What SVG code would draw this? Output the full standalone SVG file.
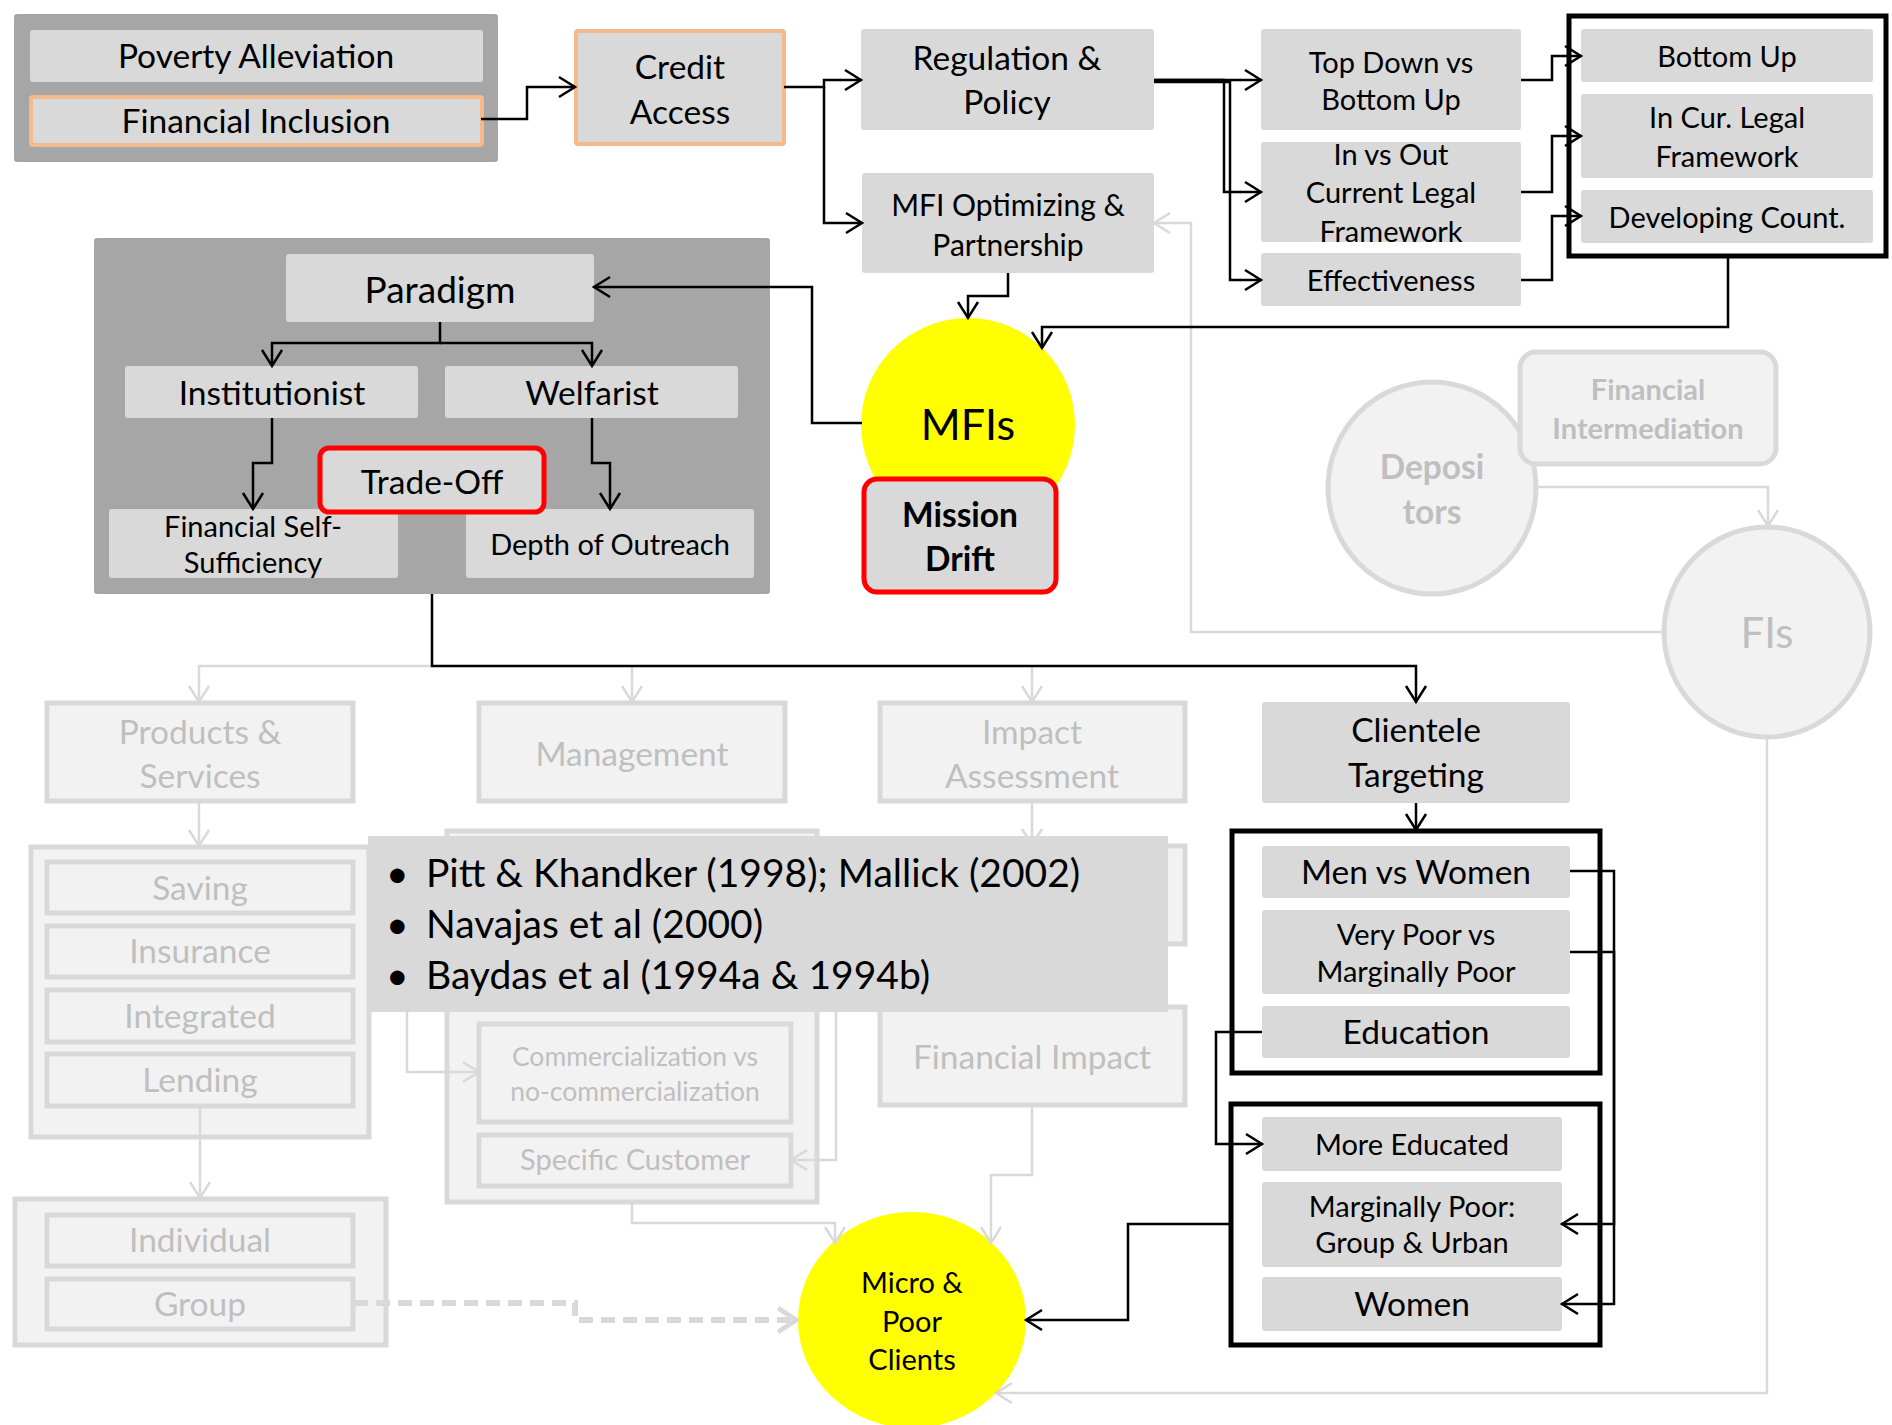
<svg xmlns="http://www.w3.org/2000/svg" width="1892" height="1425" viewBox="0 0 1892 1425">
  <defs>
    <style>
      .dk { fill: #a6a6a6; }
      .n { fill: #d9d9d9; }
      .f { fill: #f2f2f2; stroke: #d9d9d9; stroke-width: 5; }
      .or { stroke: #f6b98a; stroke-width: 4; }
      .red { stroke: #ff0000; stroke-width: 5; }
      .frame { fill: none; stroke: #000; stroke-width: 5; }
      .yel { fill: #ffff00; }
      text { font-family: Lato, "Liberation Sans", sans-serif; text-anchor: middle; fill: #000; }
      text.st { text-anchor: start; font-size: 39px; }
      .ft { fill: #bfbfbf; }
      .b { font-weight: bold; }
      .s34 { font-size: 33.5px; }
      .s30 { font-size: 30px; }
      .s29 { font-size: 29px; }
      .s27 { font-size: 26.5px; }
      .c { fill: none; stroke: #000; stroke-width: 2.5; marker-end: url(#a); }
      .cl { fill: none; stroke: #d9d9d9; stroke-width: 2.5; marker-end: url(#al); }
      .cd { fill: none; stroke: #d9d9d9; stroke-width: 6; stroke-dasharray: 14 8; marker-end: url(#ad); }
    </style>
    <marker id="a" markerUnits="userSpaceOnUse" markerWidth="24" markerHeight="24" refX="20" refY="12" orient="auto">
      <path d="M4,2 L20,12 L4,22" fill="none" stroke="#000" stroke-width="2.5"/>
    </marker>
    <marker id="al" markerUnits="userSpaceOnUse" markerWidth="24" markerHeight="24" refX="20" refY="12" orient="auto">
      <path d="M4,2 L20,12 L4,22" fill="none" stroke="#d9d9d9" stroke-width="2.5"/>
    </marker>
    <marker id="ad" markerUnits="userSpaceOnUse" markerWidth="30" markerHeight="30" refX="24" refY="15" orient="auto">
      <path d="M6,3 L24,15 L6,27" fill="none" stroke="#d9d9d9" stroke-width="5"/>
    </marker>
  </defs>
  <rect width="1892" height="1425" fill="#fff"/>

  <!-- faded (background) part of the framework -->
  <g id="products-services">
    <rect class="f" x="47" y="703" width="306" height="98"/>
    <text class="s34 ft" x="200" y="744">Products &amp;</text>
    <text class="s34 ft" x="200" y="788">Services</text>
  </g>
  <g id="management">
    <rect class="f" x="479" y="703" width="306" height="98"/>
    <text class="s34 ft" x="632" y="766">Management</text>
  </g>
  <g id="impact-assessment">
    <rect class="f" x="880" y="703" width="305" height="98"/>
    <text class="s34 ft" x="1032" y="744">Impact</text>
    <text class="s34 ft" x="1032" y="788">Assessment</text>
  </g>
  <g id="product-types">
    <rect class="f" x="31" y="847" width="338" height="290"/>
    <rect class="f" x="47" y="862" width="306" height="51"/>
    <text class="s34 ft" x="200" y="900">Saving</text>
    <rect class="f" x="47" y="926" width="306" height="51"/>
    <text class="s34 ft" x="200" y="963">Insurance</text>
    <rect class="f" x="47" y="990" width="306" height="52"/>
    <text class="s34 ft" x="200" y="1028">Integrated</text>
    <rect class="f" x="47" y="1054" width="306" height="52"/>
    <text class="s34 ft" x="200" y="1092">Lending</text>
  </g>
  <g id="management-types">
    <rect class="f" x="447" y="831" width="370" height="371"/>
    <rect class="f" x="479" y="1024" width="312" height="98"/>
    <text class="s27 ft" x="635" y="1066">Commercialization vs</text>
    <text class="s27 ft" x="635" y="1101">no-commercialization</text>
    <rect class="f" x="479" y="1135" width="312" height="51"/>
    <text class="s29 ft" x="635" y="1170">Specific Customer</text>
  </g>
  <g id="impact-types">
    <rect class="f" x="880" y="846" width="305" height="98"/>
    <rect class="f" x="880" y="1007" width="305" height="98"/>
    <text class="s34 ft" x="1032" y="1069">Financial Impact</text>
  </g>
  <g id="lending-methods">
    <rect class="f" x="15" y="1199" width="371" height="146"/>
    <rect class="f" x="47" y="1215" width="306" height="51"/>
    <text class="s34 ft" x="200" y="1252">Individual</text>
    <rect class="f" x="47" y="1279" width="306" height="50"/>
    <text class="s34 ft" x="200" y="1316">Group</text>
  </g>
  <g id="depositors">
    <ellipse class="f" cx="1432" cy="488" rx="104" ry="106"/>
    <text class="s34 ft b" x="1432" y="479">Deposi</text>
    <text class="s34 ft b" x="1432" y="524">tors</text>
  </g>
  <g id="financial-intermediation">
    <rect class="f" x="1520" y="352" width="256" height="112" rx="16"/>
    <text class="s29 ft b" x="1648" y="400">Financial</text>
    <text class="s29 ft b" x="1648" y="439">Intermediation</text>
  </g>
  <g id="fis">
    <ellipse class="f" cx="1767" cy="632" rx="103" ry="105"/>
    <text class="ft" x="1767" y="648" font-size="42">FIs</text>
  </g>

  <!-- main path -->
  <g id="poverty-group">
    <rect class="dk" x="14" y="14" width="484" height="148" rx="3"/>
    <rect class="n" x="30" y="30" width="453" height="52" rx="3"/>
    <text class="s34" x="256" y="68">Poverty Alleviation</text>
    <rect class="n or" x="31" y="97" width="451" height="48" rx="2"/>
    <text class="s34" x="256" y="133">Financial Inclusion</text>
  </g>
  <g id="credit-access">
    <rect class="n or" x="576" y="31" width="208" height="113" rx="2"/>
    <text class="s34" x="680" y="79">Credit</text>
    <text class="s34" x="680" y="124">Access</text>
  </g>
  <g id="regulation-policy">
    <rect class="n" x="861" y="29" width="293" height="101" rx="3"/>
    <text class="s34" x="1007" y="70">Regulation &amp;</text>
    <text class="s34" x="1007" y="114">Policy</text>
  </g>
  <g id="mfi-optimizing">
    <rect class="n" x="862" y="173" width="292" height="100" rx="3"/>
    <text class="s30" x="1008" y="216">MFI Optimizing &amp;</text>
    <text class="s30" x="1008" y="256">Partnership</text>
  </g>
  <g id="top-down">
    <rect class="n" x="1261" y="29" width="260" height="101" rx="3"/>
    <text class="s29" x="1391" y="73">Top Down vs</text>
    <text class="s29" x="1391" y="110">Bottom Up</text>
  </g>
  <g id="in-vs-out">
    <rect class="n" x="1261" y="142" width="260" height="100" rx="3"/>
    <text class="s29" x="1391" y="165">In vs Out</text>
    <text class="s29" x="1391" y="203">Current Legal</text>
    <text class="s29" x="1391" y="242">Framework</text>
  </g>
  <g id="effectiveness">
    <rect class="n" x="1261" y="253" width="260" height="53" rx="3"/>
    <text class="s29" x="1391" y="291">Effectiveness</text>
  </g>
  <g id="regulation-outcomes">
    <rect class="frame" x="1569" y="16" width="317" height="240"/>
    <rect class="n" x="1581" y="29" width="292" height="53" rx="3"/>
    <text class="s29" x="1727" y="67">Bottom Up</text>
    <rect class="n" x="1581" y="94" width="292" height="84" rx="3"/>
    <text class="s29" x="1727" y="128">In Cur. Legal</text>
    <text class="s29" x="1727" y="167">Framework</text>
    <rect class="n" x="1581" y="190" width="292" height="53" rx="3"/>
    <text class="s29" x="1727" y="228">Developing Count.</text>
  </g>
  <g id="paradigm-group">
    <rect class="dk" x="94" y="238" width="676" height="356" rx="3"/>
    <rect class="n" x="286" y="254" width="308" height="68" rx="3"/>
    <text x="440" y="303" font-size="37">Paradigm</text>
    <rect class="n" x="125" y="366" width="293" height="52" rx="3"/>
    <text class="s34" x="272" y="405">Institutionist</text>
    <rect class="n" x="445" y="366" width="293" height="52" rx="3"/>
    <text class="s34" x="592" y="405">Welfarist</text>
    <rect class="n" x="109" y="509" width="289" height="69" rx="3"/>
    <text class="s29" x="253" y="537">Financial Self-</text>
    <text class="s29" x="253" y="573">Sufficiency</text>
    <rect class="n" x="466" y="509" width="288" height="69" rx="3"/>
    <text class="s29" x="610" y="555">Depth of Outreach</text>
  </g>
  <g id="trade-off">
    <rect class="n red" x="320" y="448" width="224" height="64" rx="9"/>
    <text class="s34" x="432" y="494">Trade-Off</text>
  </g>
  <g id="mfis">
    <circle class="yel" cx="968" cy="425" r="107"/>
    <text x="968" y="440" font-size="43">MFIs</text>
  </g>
  <g id="mission-drift">
    <rect class="n red" x="864" y="479" width="192" height="113" rx="13"/>
    <text class="s34 b" x="960" y="527">Mission</text>
    <text class="s34 b" x="960" y="571">Drift</text>
  </g>
  <g id="clientele-targeting">
    <rect class="n" x="1262" y="702" width="308" height="101" rx="3"/>
    <text class="s34" x="1416" y="742">Clientele</text>
    <text class="s34" x="1416" y="787">Targeting</text>
  </g>
  <g id="targeting-criteria">
    <rect class="frame" x="1232" y="831" width="368" height="242"/>
    <rect class="n" x="1262" y="846" width="308" height="52" rx="3"/>
    <text class="s34" x="1416" y="884">Men vs Women</text>
    <rect class="n" x="1262" y="910" width="308" height="84" rx="3"/>
    <text class="s29" x="1416" y="945">Very Poor vs</text>
    <text class="s29" x="1416" y="982">Marginally Poor</text>
    <rect class="n" x="1262" y="1006" width="308" height="52" rx="3"/>
    <text class="s34" x="1416" y="1044">Education</text>
  </g>
  <g id="targeting-findings">
    <rect class="frame" x="1231" y="1104" width="369" height="241"/>
    <rect class="n" x="1262" y="1117" width="300" height="54" rx="3"/>
    <text class="s29" x="1412" y="1155">More Educated</text>
    <rect class="n" x="1262" y="1182" width="300" height="85" rx="3"/>
    <text class="s29" x="1412" y="1217">Marginally Poor:</text>
    <text class="s29" x="1412" y="1253">Group &amp; Urban</text>
    <rect class="n" x="1262" y="1277" width="300" height="54" rx="3"/>
    <text class="s34" x="1412" y="1316">Women</text>
  </g>
  <g id="micro-poor-clients">
    <ellipse class="yel" cx="912" cy="1320" rx="114" ry="108"/>
    <text class="s29" x="912" y="1293">Micro &amp;</text>
    <text class="s29" x="912" y="1332">Poor</text>
    <text class="s29" x="912" y="1370">Clients</text>
  </g>

  <g id="connectors">
    <!-- faded links -->
    <path class="cl" d="M432,666 H199 V702"/>
    <path class="cl" d="M632,666 V702"/>
    <path class="cl" d="M1032,666 V702"/>
    <path class="cl" d="M199,801 V846"/>
    <path class="cl" d="M1032,801 V845"/>
    <path class="cl" d="M200,1106 V1198"/>
    <path class="cl" d="M407,1012 V1072 H479"/>
    <path class="cl" d="M836,1012 V1160 H791"/>
    <path class="cl" d="M632,1202 V1223 H835 V1243"/>
    <path class="cl" d="M1032,1105 V1175 H991 V1243"/>
    <path class="cl" d="M1664,632 H1191 V223 H1154"/>
    <path class="cl" d="M1537,487 H1768 V526"/>
    <path class="cl" d="M1767,737 V1393 H996"/>
    <path class="cd" d="M354,1303 H575 V1320 H796"/>
    <!-- main links -->
    <path class="c" d="M481,119 H527 V87 H575"/>
    <path class="c" d="M784,87 H824 V80 H861"/>
    <path class="c" d="M824,87 V223 H862"/>
    <path class="c" d="M1154,80 H1261"/>
    <path class="c" d="M1154,80 H1224 V192 H1261"/>
    <path class="c" d="M1154,82 H1230 V280 H1261"/>
    <path class="c" d="M1521,80 H1552 V56 H1581"/>
    <path class="c" d="M1521,192 H1552 V136 H1581"/>
    <path class="c" d="M1521,280 H1552 V216 H1581"/>
    <path class="c" d="M1728,258 V327 H1042 V348"/>
    <path class="c" d="M1008,273 V296 H968 V318"/>
    <path class="c" d="M862,423 H812 V287 H594"/>
    <path class="c" d="M440,322 V343 H272 V366"/>
    <path class="c" d="M440,343 H592 V366"/>
    <path class="c" d="M272,418 V463 H253 V509"/>
    <path class="c" d="M592,418 V463 H610 V509"/>
    <path class="c" d="M432,594 V666 H1416 V702"/>
    <path class="c" d="M1416,803 V830"/>
    <path class="c" d="M1570,871 H1614 V1304 H1562"/>
    <path class="c" d="M1570,952 H1614 V1224 H1562"/>
    <path class="c" d="M1262,1032 H1216 V1144 H1262"/>
    <path class="c" d="M1231,1224 H1128 V1320 H1026"/>
  </g>

  <g id="references">
    <rect class="n" x="368" y="836" width="800" height="176"/>
    <text class="st" x="386" y="887">•</text>
    <text class="st" x="386" y="938">•</text>
    <text class="st" x="386" y="989">•</text>
    <text class="st" x="426" y="887">Pitt &amp; Khandker (1998); Mallick (2002)</text>
    <text class="st" x="426" y="938">Navajas et al (2000)</text>
    <text class="st" x="426" y="989">Baydas et al (1994a &amp; 1994b)</text>
  </g>
</svg>
